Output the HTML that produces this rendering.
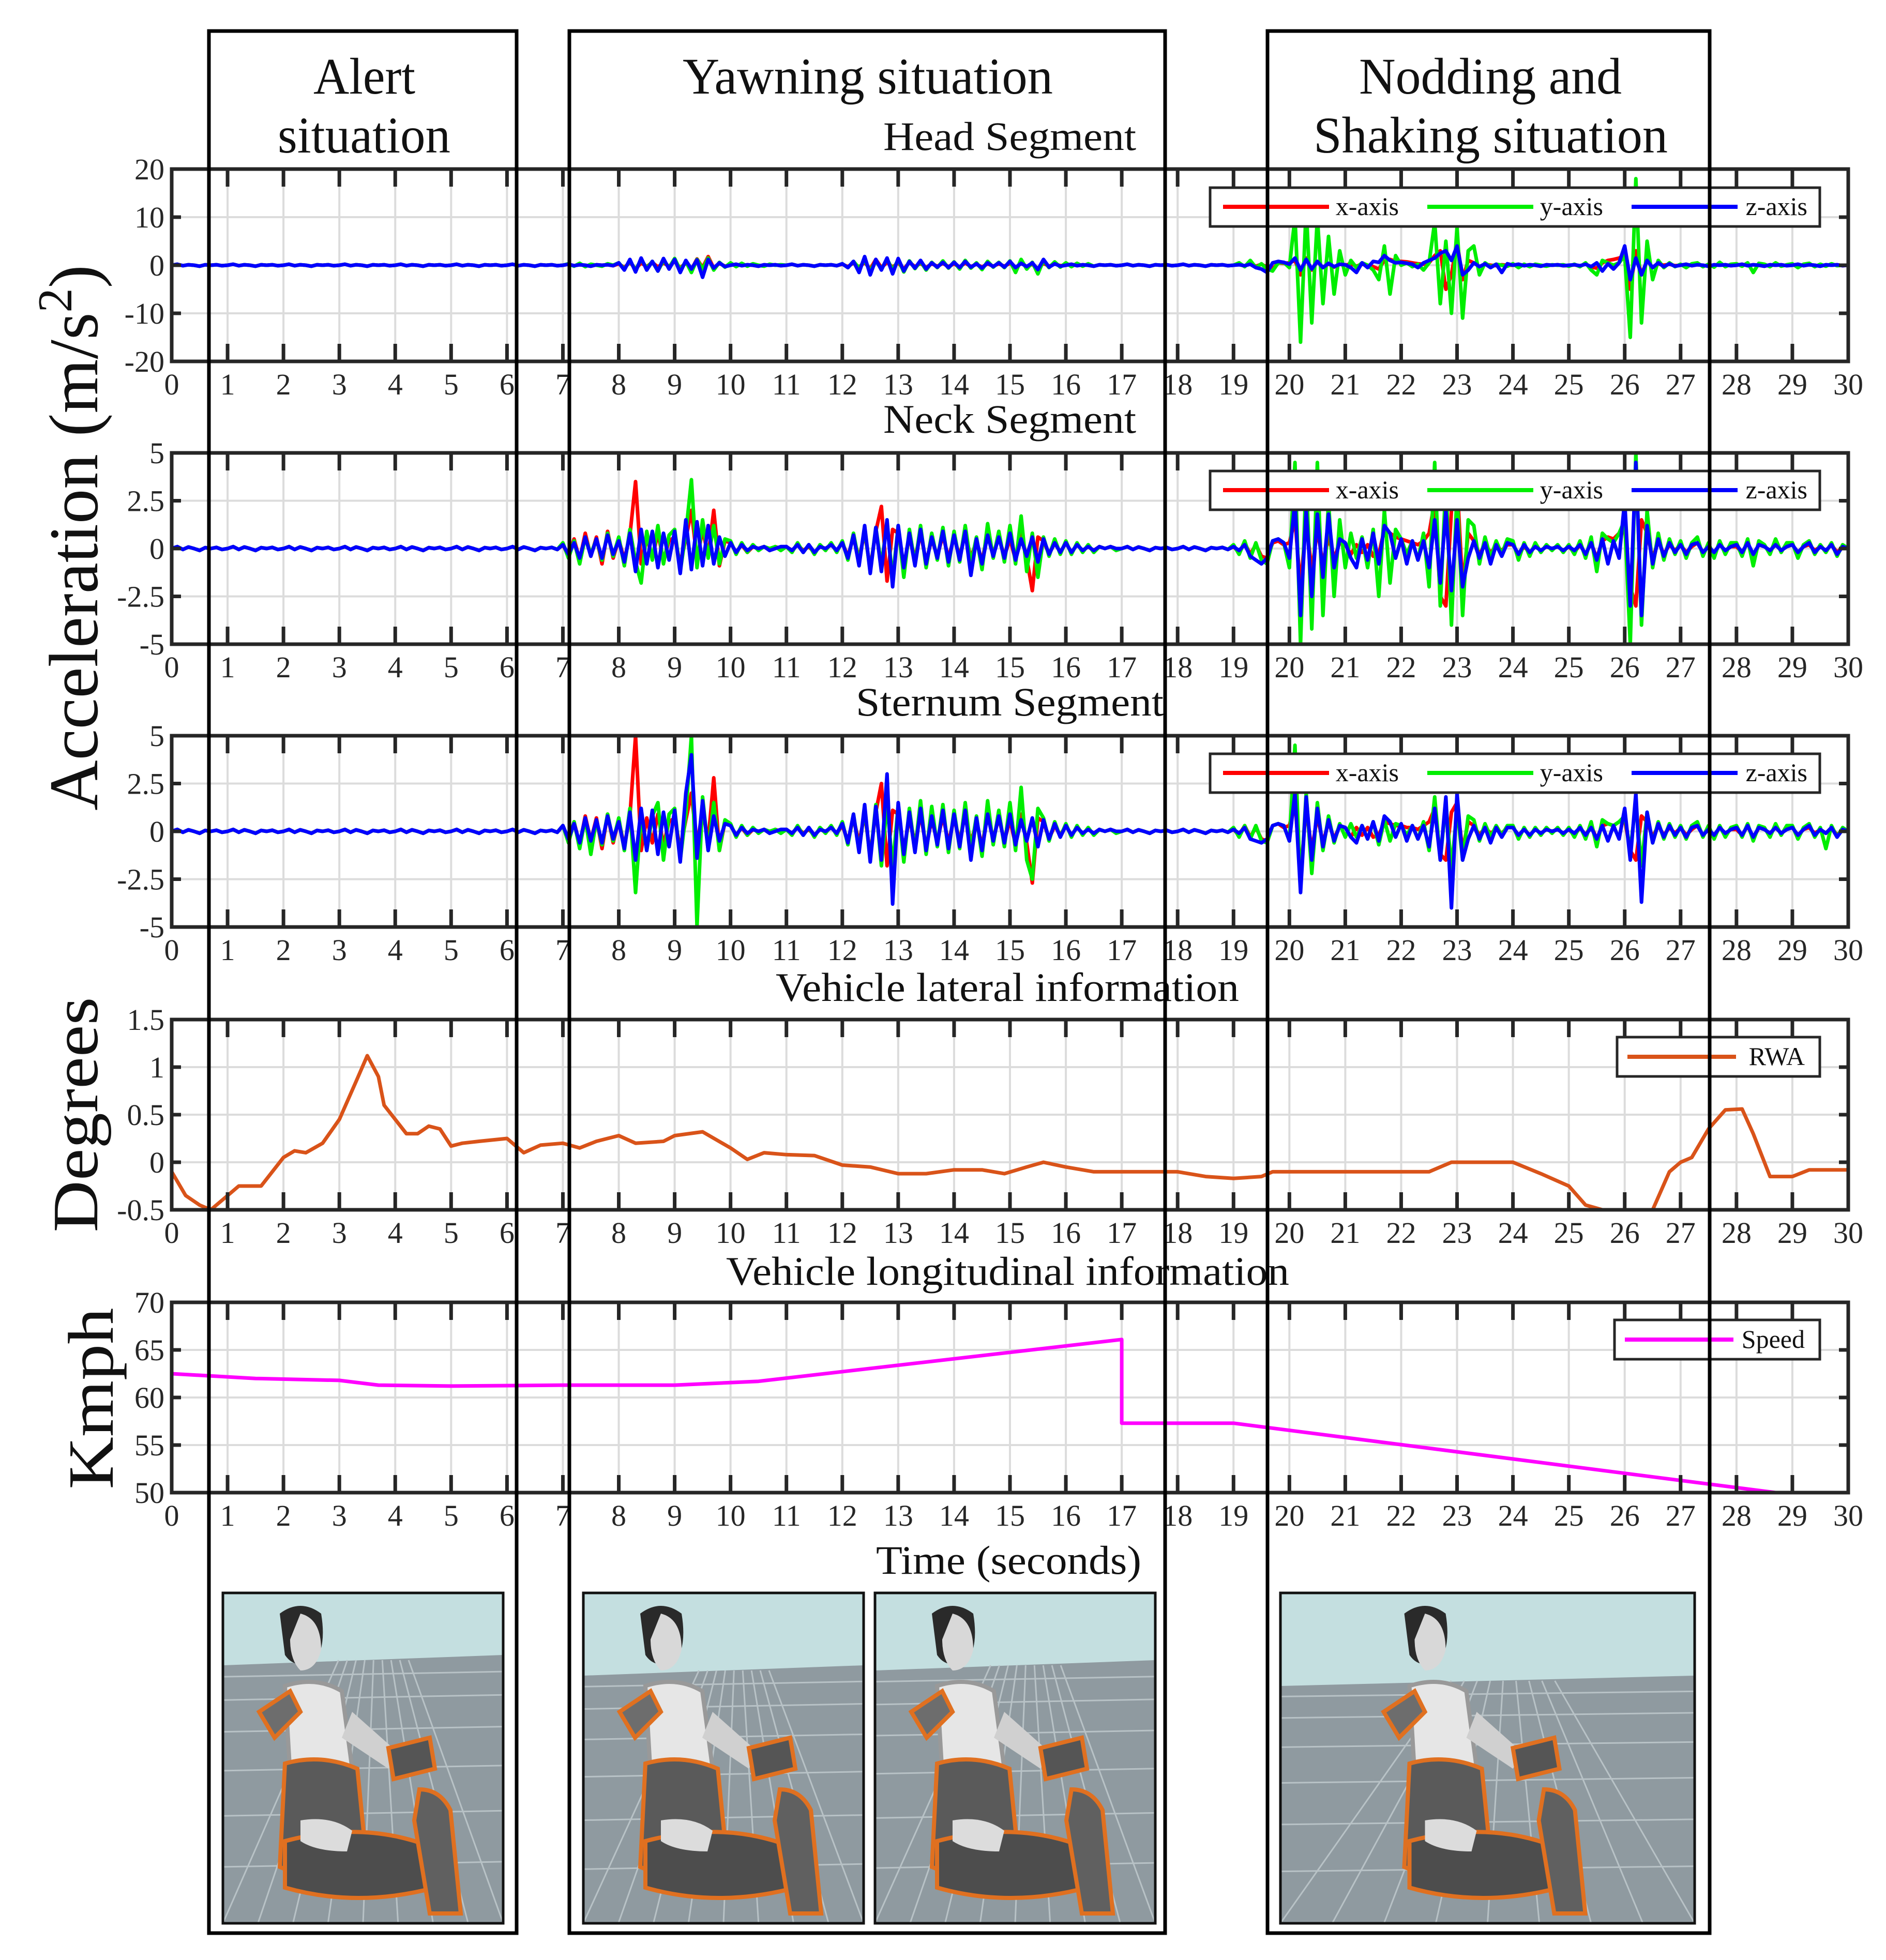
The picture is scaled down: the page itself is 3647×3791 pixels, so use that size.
<!DOCTYPE html>
<html><head><meta charset="utf-8"><style>
html,body{margin:0;padding:0;background:#fff;width:3647px;height:3791px;overflow:hidden;}
svg{display:block;font-family:"Liberation Serif",serif;}
</style></head><body>
<svg id="fig" xmlns="http://www.w3.org/2000/svg" width="3647" height="3791" viewBox="0 0 3647 3791" overflow="hidden">
<rect x="0" y="0" width="3647" height="3791" fill="#fff"/>
<g id="charts"></g>
<g id="panels"></g>
<g id="boxes"></g>
</svg>
<script>
// ---------- DATA ----------
const timeStart = 0, timeStep = 0.1;
const QH = [0,0.2,-0.1,0.1,0,-0.2,0.1,0,0.1,-0.1];
const QN = [0,0.1,-0.05,0.08,0,-0.1,0.05,0,0.06,-0.05];
const xTicks = [0,1,2,3,4,5,6,7,8,9,10,11,12,13,14,15,16,17,18,19,20,21,22,23,24,25,26,27,28,29,30];
const headTicks = [20,10,0,-10,-20];
const neckTicks = [5,2.5,0,-2.5,-5];
const sternTicks = [5,2.5,0,-2.5,-5];
const degTicks = [1.5,1,0.5,0,-0.5];
const kmphTicks = [70,65,60,55,50];

const headY = [...QH,...QH,...QH,...QH,...QH,...QH,...QH,
 0,0.3,-0.2,0.4,-0.3,0.2,0,-0.2,0.3,0,
 0.5,-0.8,0.9,-1,1.2,-0.6,0.8,-1.2,1,-0.5,
 1.4,-1,0.8,-1.5,1.2,-0.8,1.5,-1,0.6,-0.4,
 0.5,-0.3,0.4,-0.2,0.3,0,-0.2,0.2,0,0.1,
 ...QH,
 0.3,-0.5,0.8,-0.6,1,-1.2,0.9,-0.8,1.3,-1,
 1.1,-1.4,0.9,-0.7,0.8,-1,0.6,-0.5,0.9,-0.6,
 0.7,-0.8,1,-0.6,0.5,-0.9,0.8,-0.4,0.6,-0.5,
 0.9,-1.5,1.2,-0.8,0.6,-1.8,1,-0.5,0.7,-0.4,
 0.5,-0.3,0.4,-0.2,0.3,-0.2,0.1,0,0.1,-0.1,
 ...QH,...QH,
 0,0.5,-0.3,1,-0.5,0.3,-0.8,-1.2,0.5,0.6,
 -0.5,10,-16,12,-12,10,-8,6,-6,3,
 -2,1,-0.5,0.5,0,-1,-3,4,-6,2,
 0,0.5,-0.3,0.2,-1,0.5,9,-8,5,-10,
 8,-11,3,4,-2,0.5,-0.3,0.2,0,-0.2,
 0.3,-0.5,0.2,-0.3,0.2,0,-0.2,0.1,0,0.1,
 -0.2,0.2,-0.3,0.5,-1,-2,1,0.5,0,0.5,
 2,-15,18,-12,5,-3,1,-0.5,0.5,-0.3,
 0.2,-0.5,0.3,0.5,-0.3,0.2,-0.4,0.6,-0.3,0.2,
 0.3,-0.2,0.5,-1.5,0.4,0.2,-0.3,0.5,-0.2,0.1,
 0.3,-0.5,0.2,0.4,-0.3,0.2,-0.2,0.3,-0.1,0,
 0];
const headX = [...QH,...QH,...QH,...QH,...QH,...QH,...QH,...QH,
 0.3,-0.5,0.6,-0.8,0.5,-0.3,0.6,-0.4,0.5,-0.2,
 0.8,-0.6,0.5,-0.9,1.3,-0.5,1.8,-0.6,0.4,-0.2,
 ...QH,...QH,
 0.2,-0.3,0.5,-0.4,0.6,-0.8,1.2,-0.5,0.6,-0.4,
 0.5,-0.8,0.6,-0.3,0.4,-0.5,0.3,-0.2,0.4,-0.3,
 0.3,-0.4,0.5,-0.3,0.2,-0.4,0.3,-0.2,0.3,-0.2,
 0.4,-0.6,0.5,-0.3,0.2,-0.7,0.4,-0.2,0.3,-0.1,
 ...QH,...QH,...QH,
 0,0.2,-0.2,0.4,-0.2,0.2,-0.4,-0.8,0.5,0.4,
 0.5,1,-2,1.5,-1,0.8,-0.5,0.3,-0.4,0.2,
 0,0.3,-0.2,0.2,0,-0.3,-0.8,1,1.2,0.8,
 0.8,0.7,0.5,0.3,0.2,0.5,2,3,-5,-2,
 5,-3,1,0.5,-0.3,0.2,0,-0.1,0.1,0,
 ...QH,
 -0.1,0.1,-0.2,0.3,-0.4,-0.6,0.5,1,1.2,1.5,
 2,-5,3,-2,1,-0.5,0.3,0,0.2,-0.1,
 ...QH,...QH,...QH,
 0];
const headZ = [...QH,...QH,...QH,...QH,...QH,...QH,...QH,...QH,
 0.5,-1,1.2,-1.4,1.5,-1,0.8,-1.2,1.4,-0.8,
 1.2,-1.5,1,-0.8,1.1,-2.5,1.2,-0.6,0.5,-0.3,
 ...QH,...QH,
 0.3,-0.5,0.8,-1.5,1.8,-2,1.2,-1,1.5,-1.8,
 1.4,-1.2,0.8,-0.6,1,-0.8,0.5,-0.4,0.6,-0.5,
 0.6,-0.5,0.8,-0.4,0.3,-0.6,0.5,-0.3,0.5,-0.4,
 0.8,-0.5,0.4,-0.3,0.5,-0.9,1.2,-0.4,0.3,-0.2,
 ...QH,...QH,...QH,
 0,0.1,-0.1,0.2,-0.5,-0.8,-1.5,0.5,0.8,0.6,
 0.2,1.5,-1,1.2,-0.8,0.8,-0.5,0.4,-0.3,0.2,
 0.1,-0.5,-1.5,0.5,-0.5,0.8,0.6,2,1,0.5,
 0.6,0.4,0.2,-0.5,0.5,1,1.5,2.5,3,1,
 4,-2,-1,0.5,-0.3,0.3,-0.5,0.2,-1.5,0.3,
 ...QH,
 0,0.1,-0.1,0.2,-0.3,0.5,-1.2,0.3,-0.8,0.5,
 4,-3,1.5,-2,1,-0.5,0.5,-0.3,0.3,-0.2,
 ...QH,...QH,...QH,
 0];

const neckY = [...QN,...QN,...QN,...QN,...QN,...QN,...QN,
 0.3,-0.5,0.4,-0.8,0.6,-0.3,0.5,-0.6,0.8,-0.4,
 0.6,-0.9,1,-0.7,-1.8,0.9,-0.6,1.2,-0.8,0.7,
 1,-1.2,0.8,3.6,-1,1.5,-0.5,1.2,-0.8,0.5,
 0.4,-0.3,0.3,-0.2,0.2,-0.1,0.1,0,0.1,-0.1,
 0.1,-0.2,0.3,-0.2,0.2,-0.3,0.2,-0.1,0.3,-0.2,
 0.4,-0.6,0.8,-0.7,1,-1.2,1.1,-0.9,1.4,-1.6,
 1.2,-1.5,1,-0.8,1.2,-1,0.8,-0.6,1.1,-0.9,
 0.9,-0.7,1.2,-0.8,0.6,-1.1,1.3,-0.5,0.9,-0.7,
 1.2,-0.8,1.7,-1.2,0.8,-1.5,0.6,-0.4,0.5,-0.3,
 0.4,-0.3,0.3,-0.2,0.2,-0.2,0.1,0,0.1,-0.1,
 ...QN,...QN,
 0.2,-0.3,0.4,-0.5,0.3,-0.6,-0.8,0.4,0.5,0.3,
 -1,4.5,-5,4,-4.2,4.5,-3.5,2.5,-2.5,1.5,
 -1,0.8,-0.5,0.6,-1,1,-2.5,2,-1.8,1,
 0.5,-0.3,0.4,-0.6,0.8,-2,4.5,-3,3.5,-4,
 3,-3.5,1.5,1.2,-0.8,0.6,-0.5,0.4,-0.3,0.5,
 0.4,-0.6,0.3,-0.4,0.3,-0.2,0.2,-0.1,0.2,-0.2,
 0.2,-0.3,0.4,-0.5,0.6,-1.2,0.8,0.5,0.3,0.8,
 1.5,-5,5,-4,2,-1,0.8,-0.6,0.5,-0.3,
 0.4,-0.5,0.3,0.6,-0.4,0.3,-0.5,0.4,-0.3,0.3,
 0.3,-0.4,0.5,-0.9,0.4,0.2,-0.3,0.5,-0.2,0.3,
 0.3,-0.5,0.2,0.4,-0.3,0.2,-0.2,0.3,-0.4,0.2,
 0];
const neckX = [...QN,...QN,...QN,...QN,...QN,...QN,...QN,
 0.2,-0.4,0.5,-0.6,0.8,-0.4,0.6,-0.8,0.9,-0.5,
 0.5,-0.6,0.7,3.5,-0.8,0.6,-0.5,0.8,-0.6,0.4,
 0.6,-0.8,0.5,2,-0.6,1,-0.4,2,-0.9,0.4,
 0.3,-0.2,0.2,-0.2,0.1,0,0.1,-0.1,0.1,0,
 0.1,-0.1,0.2,-0.1,0.1,-0.2,0.1,0,0.2,-0.1,
 0.3,-0.4,0.6,-0.5,0.8,-1,0.9,2.2,-1.7,1,
 0.8,-0.9,0.6,-0.5,0.8,-0.7,0.5,-0.4,0.7,-0.5,
 0.6,-0.4,0.8,-0.5,0.4,-0.7,0.9,-0.3,0.6,-0.4,
 0.5,-0.6,0.8,-0.5,-2.2,0.6,0.4,-0.3,0.3,-0.2,
 0.3,-0.2,0.2,-0.1,0.1,-0.1,0.1,0,0.1,0,
 ...QN,...QN,
 0.1,-0.2,0.3,-0.3,0.2,-0.4,-0.5,0.3,0.4,0.2,
 0.3,1.5,-2,1.5,-1.2,1,-0.8,0.6,-0.5,0.3,
 0.2,-0.3,0.2,-0.2,0.2,-0.4,-0.3,1,0.8,0.6,
 0.5,0.4,0.3,0.2,0.4,0.8,2.5,-2.5,-3,2,
 3.5,-2,0.8,0.4,-0.3,0.2,-0.2,0.1,-0.1,0.2,
 0.2,-0.3,0.1,-0.2,0.1,-0.1,0.1,0,0.1,-0.1,
 0.1,-0.2,0.2,-0.3,0.3,-0.5,0.4,0.6,0.5,0.8,
 1,-2,-3,1.5,0.8,-0.5,0.4,-0.3,0.2,-0.1,
 0.2,-0.2,0.1,0.3,-0.2,0.1,-0.2,0.2,-0.1,0.1,
 0.1,-0.2,0.3,-0.4,0.2,0.1,-0.1,0.2,-0.1,0.1,
 0.2,-0.2,0.1,0.2,-0.1,0.1,-0.1,0.2,-0.2,0.1,
 0];
const neckZ = [...QN,...QN,...QN,...QN,...QN,...QN,...QN,
 0.2,-0.3,0.3,-0.5,0.6,-0.4,0.5,-0.5,0.7,-0.3,
 0.4,-0.7,0.8,-1.2,1,-0.8,0.9,-1,0.8,-0.6,
 0.9,-1.3,1.5,-1.1,1.4,-0.9,1.2,-0.8,0.6,-0.4,
 0.3,-0.2,0.2,-0.1,0.1,0,0.1,-0.1,0,0.1,
 0.1,-0.1,0.2,-0.2,0.2,-0.2,0.1,0,0.2,-0.1,
 0.3,-0.5,0.7,-0.9,1.2,-1.3,1.1,-1.2,1.5,-2,
 1.2,-1,0.8,-0.9,1,-0.8,0.6,-0.5,0.9,-0.7,
 0.7,-0.6,0.9,-1.4,0.5,-0.8,0.7,-0.4,0.6,-0.5,
 0.8,-0.6,0.5,-0.4,0.6,-0.7,0.5,-0.3,0.3,-0.2,
 0.3,-0.2,0.2,-0.1,0.1,-0.1,0.1,0,0.1,0,
 ...QN,...QN,
 0.1,-0.1,0.2,-0.4,-0.6,-0.8,-0.5,0.4,0.5,0.3,
 -0.5,2.5,-3.5,2,-2.5,1.8,-1.5,1.8,-1,0.5,
 0.3,-0.5,-1,0.5,-0.6,0.8,-0.8,1.2,0.8,-0.5,
 0.5,-0.8,0.4,-0.6,0.4,-1,1.5,-1.8,2,-2.2,
 1.5,-2,-0.5,0.4,-0.5,0.3,-0.8,0.2,-0.4,0.3,
 0.2,-0.3,0.2,-0.2,0.1,-0.1,0.1,0,0.1,-0.1,
 0.1,-0.1,0.2,-0.3,0.3,-0.6,0.5,-0.8,0.4,-0.5,
 2.5,-3,4.5,-3.5,1.2,-0.8,0.5,-0.4,0.3,-0.2,
 0.2,-0.3,0.2,0.3,-0.2,0.1,-0.2,0.2,-0.1,0.1,
 0.2,-0.2,0.3,-0.3,0.2,0.1,-0.1,0.2,-0.1,0.1,
 0.2,-0.2,0.1,0.3,-0.2,0.1,-0.1,0.2,-0.3,0.1,
 0];

const sternY = [...QN,...QN,...QN,...QN,...QN,...QN,...QN,
 0.3,-0.6,0.5,-0.9,0.7,-1.2,0.6,-0.7,0.9,-0.5,
 0.7,-1,1.2,-3.2,0.9,-1,0.8,1.5,-1.5,0.9,
 1.2,-1.5,0.9,5,-5,1.8,-1,1.5,-1,0.6,
 0.4,-0.3,0.3,-0.2,0.2,-0.1,0.1,0,0.1,-0.1,
 0.1,-0.2,0.3,-0.2,0.2,-0.3,0.2,-0.1,0.3,-0.2,
 0.5,-0.7,0.9,-1,1.2,-1.5,1.4,-1.8,1.5,-1.9,
 1.4,-1.6,1.2,-1,1.6,-1.2,1.3,-0.8,1.4,-1.1,
 1.1,-0.9,1.5,-1,0.8,-1.3,1.6,-0.7,1.1,-0.8,
 1.5,-1,2.3,-1.5,-2.5,1.2,0.7,-0.5,0.5,-0.3,
 0.4,-0.3,0.3,-0.2,0.2,-0.2,0.1,0,0.1,-0.1,
 ...QN,...QN,
 0.2,-0.3,0.3,-0.4,0.3,-0.5,-0.6,0.3,0.4,0.3,
 -0.5,4.5,-3,2,-2.2,1.5,-1,0.8,-0.6,0.4,
 -0.3,0.4,-0.3,0.3,-0.4,0.5,-0.7,0.6,-0.5,0.4,
 0.3,-0.2,0.3,-0.4,0.5,-1,1.8,-1.5,1.5,-2,
 1.2,-1.5,0.8,0.6,-0.5,0.4,-0.3,0.3,-0.2,0.3,
 0.3,-0.4,0.2,-0.3,0.2,-0.2,0.2,-0.1,0.2,-0.2,
 0.2,-0.3,0.3,-0.4,0.5,-0.8,0.6,0.4,0.3,0.5,
 0.8,-1,1.5,-1.8,1,-0.6,0.5,-0.4,0.4,-0.3,
 0.3,-0.4,0.3,0.5,-0.3,0.3,-0.4,0.3,-0.3,0.2,
 0.3,-0.3,0.4,-0.5,0.3,0.2,-0.3,0.4,-0.2,0.3,
 0.3,-0.4,0.2,0.4,-0.3,0.2,-0.9,0.3,-0.3,0.2,
 0];
const sternX = [...QN,...QN,...QN,...QN,...QN,...QN,...QN,
 0.3,-0.5,0.5,-0.7,0.8,-0.5,0.7,-0.9,0.9,-0.6,
 0.6,-0.8,0.8,5,-1,0.7,-0.6,0.9,-0.7,0.5,
 0.7,-0.9,0.6,2,-0.7,1.1,-0.5,2.8,-1,0.5,
 0.3,-0.2,0.2,-0.2,0.1,0,0.1,-0.1,0.1,0,
 0.1,-0.1,0.2,-0.1,0.1,-0.2,0.1,0,0.2,-0.1,
 0.3,-0.5,0.7,-0.6,0.9,-1.2,1,2.5,-1.8,1.1,
 0.9,-1,0.7,-0.6,0.9,-0.8,0.6,-0.5,0.8,-0.6,
 0.7,-0.5,0.9,-0.6,0.5,-0.8,1,-0.4,0.7,-0.5,
 0.6,-0.7,0.9,-0.6,-2.7,0.7,0.5,-0.4,0.3,-0.2,
 0.3,-0.2,0.2,-0.1,0.1,-0.1,0.1,0,0.1,0,
 ...QN,...QN,
 0.1,-0.2,0.3,-0.3,0.2,-0.4,-0.5,0.3,0.4,0.2,
 0.3,1.5,-2.2,1.2,-1,0.8,-0.6,0.5,-0.4,0.3,
 0.2,-0.3,0.2,-0.2,0.2,-0.3,-0.2,0.5,0.4,0.3,
 0.3,0.2,0.2,0.1,0.3,0.5,1.2,-1.2,-1.5,1,
 1.5,-1,0.5,0.3,-0.2,0.2,-0.1,0.1,-0.1,0.2,
 0.2,-0.2,0.1,-0.2,0.1,-0.1,0.1,0,0.1,-0.1,
 0.1,-0.2,0.2,-0.2,0.3,-0.4,0.3,0.4,0.3,0.5,
 0.6,-1,-1.5,0.8,0.5,-0.3,0.3,-0.2,0.2,-0.1,
 0.2,-0.2,0.1,0.3,-0.2,0.1,-0.2,0.2,-0.1,0.1,
 0.1,-0.2,0.3,-0.4,0.2,0.1,-0.1,0.2,-0.1,0.1,
 0.2,-0.2,0.1,0.2,-0.1,0.1,-0.1,0.2,-0.2,0.1,
 0];
const sternZ = [...QN,...QN,...QN,...QN,...QN,...QN,...QN,
 0.3,-0.4,0.4,-0.6,0.7,-0.5,0.6,-0.6,0.8,-0.4,
 0.5,-0.9,1,-1.5,1.2,-1,1.1,-1.2,1,-0.8,
 1.1,-1.6,2,4,-1.4,1.6,-1,0.8,-0.5,0.4,
 0.3,-0.2,0.2,-0.1,0.1,0,0.1,-0.1,0,0.1,
 0.1,-0.1,0.2,-0.2,0.2,-0.2,0.1,0,0.2,-0.1,
 0.4,-0.6,0.9,-1.1,1.4,-1.6,1.3,-1.5,3,-3.8,
 1.5,-1.2,1,-1.1,1.2,-1,0.8,-0.7,1.1,-0.9,
 0.9,-0.8,1.1,-1.5,0.7,-1,0.9,-0.5,0.8,-0.6,
 0.9,-0.7,0.6,-0.5,0.7,-0.8,0.6,-0.4,0.4,-0.3,
 0.3,-0.2,0.2,-0.1,0.1,-0.1,0.1,0,0.1,0,
 ...QN,...QN,
 0.1,-0.1,0.2,-0.4,-0.5,-0.6,-0.4,0.3,0.4,0.3,
 -0.5,2,-3.2,1.8,-1.5,1.2,-0.8,0.6,-0.5,0.3,
 0.2,-0.3,-0.6,0.3,-0.4,0.5,-0.5,0.8,0.5,-0.3,
 0.4,-0.5,0.3,-0.4,0.3,-0.8,1.2,-1.5,1.8,-4,
 2,-1.5,-0.4,0.3,-0.4,0.2,-0.6,0.2,-0.3,0.2,
 0.2,-0.2,0.1,-0.2,0.1,-0.1,0.1,0,0.1,-0.1,
 0.1,-0.1,0.2,-0.2,0.2,-0.4,0.3,-0.5,0.3,-0.4,
 1.2,-1.5,2,-3.7,1,-0.6,0.4,-0.3,0.3,-0.2,
 0.2,-0.3,0.2,0.3,-0.2,0.1,-0.2,0.2,-0.1,0.1,
 0.2,-0.2,0.3,-0.3,0.2,0.1,-0.1,0.2,-0.1,0.1,
 0.2,-0.2,0.1,0.3,-0.2,0.1,-0.1,0.2,-0.3,0.1,
 0];

const rwaT = [0,0.25,0.5,0.7,1.0,1.2,1.6,2.0,2.2,2.4,2.7,3.0,3.3,3.5,3.7,3.8,4.0,4.2,4.4,4.6,4.8,5.0,5.2,5.5,6.0,6.3,6.6,7.0,7.3,7.6,8.0,8.3,8.8,9.0,9.5,10.0,10.3,10.6,11.0,11.5,12.0,12.5,13.0,13.5,14.0,14.5,14.9,15.3,15.6,16.0,16.5,17.0,18.0,18.5,19.0,19.5,19.7,21.0,22.5,22.9,24.0,24.5,25.0,25.3,25.6,26.5,26.8,27.0,27.2,27.5,27.8,28.1,28.3,28.6,29.0,29.3,30.0];
const rwaV = [-0.1,-0.35,-0.45,-0.5,-0.35,-0.25,-0.25,0.05,0.12,0.1,0.2,0.45,0.85,1.12,0.9,0.6,0.45,0.3,0.3,0.38,0.35,0.17,0.2,0.22,0.25,0.1,0.18,0.2,0.15,0.22,0.28,0.2,0.22,0.28,0.32,0.15,0.03,0.1,0.08,0.07,-0.03,-0.05,-0.12,-0.12,-0.08,-0.08,-0.12,-0.05,0.0,-0.05,-0.1,-0.1,-0.1,-0.15,-0.17,-0.15,-0.1,-0.1,-0.1,0,0,-0.12,-0.25,-0.45,-0.5,-0.5,-0.1,0,0.05,0.35,0.55,0.56,0.3,-0.15,-0.15,-0.08,-0.08];
const speedT = [0,1.5,3,3.7,5,7,9,10.5,17,17,19,28.7];
const speedV = [62.5,62,61.8,61.3,61.2,61.3,61.3,61.7,66.1,57.3,57.3,50];

// ---------- DRAW ----------
const NS='http://www.w3.org/2000/svg';
const charts=document.getElementById('charts');
function mk(tag,attrs,parent){const e=document.createElementNS(NS,tag);for(const k in attrs)e.setAttribute(k,attrs[k]);(parent||charts).appendChild(e);return e;}
const XL=332, XR=3574;
function xAxis(t){return XL+(t-0)*(XR-XL)/30;}
function yAxisFn(top,bot,mn,mx){return v=>bot-(v-mn)*(bot-top)/(mx-mn);}

const defs=mk('defs',{});
function panel(id,top,bot,mn,mx,ticks,fmt){
  const g=mk('g',{});
  
  
  const y=yAxisFn(top,bot,mn,mx);
  const cp=mk('clipPath',{id:'clip-'+id},defs);
  mk('rect',{x:XL,y:top,width:XR-XL,height:bot-top},cp);
  xTicks.forEach(t=>{const l=mk('line',{x1:xAxis(t),x2:xAxis(t),y1:top,y2:bot,stroke:'#dcdcdc','stroke-width':4},g);
    });
  ticks.forEach(v=>{const l=mk('line',{x1:XL,x2:XR,y1:y(v),y2:y(v),stroke:'#dcdcdc','stroke-width':4},g);
    });
  const sg=mk('g',{'clip-path':'url(#clip-'+id+')'},g);
  return {g,sg,y,top,bot,ticks,fmt};
}
function finishPanel(P,id){
  const {g,y,top,bot,ticks}=P;
  const fr=mk('rect',{x:XL,y:top,width:XR-XL,height:bot-top,fill:'none',stroke:'#262626','stroke-width':7},g);
  
  xTicks.forEach(t=>{
    mk('line',{x1:xAxis(t),x2:xAxis(t),y1:top,y2:top+34,stroke:'#262626','stroke-width':7},g);
    mk('line',{x1:xAxis(t),x2:xAxis(t),y1:bot,y2:bot-34,stroke:'#262626','stroke-width':7},g);
    const tx=mk('text',{x:xAxis(t),y:bot+64,'font-size':58,'text-anchor':'middle',fill:'#262626'},g);
    tx.textContent=t;
    
  });
  ticks.forEach(v=>{
    mk('line',{x1:XL,x2:XL+18,y1:y(v),y2:y(v),stroke:'#262626','stroke-width':7},g);
    mk('line',{x1:XR,x2:XR-18,y1:y(v),y2:y(v),stroke:'#262626','stroke-width':7},g);
    const tx=mk('text',{x:318,y:y(v)+20,'font-size':58,'text-anchor':'end',fill:'#262626'},g);
    tx.textContent=v;
    
  });
}
function seriesLine(P,vals,color,name,w){
  let d='';
  vals.forEach((v,i)=>{const t=timeStart+i*timeStep; d+=(i?'L':'M')+xAxis(t).toFixed(1)+' '+P.y(v).toFixed(1);});
  const p=mk('path',{d,fill:'none',stroke:color,'stroke-width':w||7,'stroke-linejoin':'round'},P.sg);
  
}
function xyLine(P,ts,vs,color,name,w){
  let d='';
  ts.forEach((t,i)=>{d+=(i?'L':'M')+xAxis(t).toFixed(1)+' '+P.y(vs[i]).toFixed(1);});
  const p=mk('path',{d,fill:'none',stroke:color,'stroke-width':w||7,'stroke-linejoin':'round'},P.sg);
  
}
function legend3(P,id,top){
  const g=mk('g',{},P.g);
  
  mk('rect',{x:2340,y:top,width:1179,height:75,fill:'#fff',stroke:'#262626','stroke-width':5},g);
  const items=[['x-axis','#ff0000',2365],['y-axis','#00ee00',2760],['z-axis','#0000ff',3155]];
  items.forEach(([lab,c,x0])=>{
    const l=mk('line',{x1:x0,x2:x0+205,y1:top+37,y2:top+37,stroke:c,'stroke-width':8},g);
    
    const tx=mk('text',{x:x0+340,y:top+53,'font-size':50,'text-anchor':'end',fill:'#111'},g);
    tx.textContent=lab;
    
  });
}
function legend1(P,id,top,x0,lab,c){
  const g=mk('g',{},P.g);
  
  mk('rect',{x:x0,y:top,width:3519-x0,height:76,fill:'#fff',stroke:'#262626','stroke-width':5},g);
  mk('line',{x1:x0+20,x2:x0+230,y1:top+38,y2:top+38,stroke:c,'stroke-width':8},g);
  const tx=mk('text',{x:3490,y:top+54,'font-size':50,'text-anchor':'end',fill:'#111'},g);
  tx.textContent=lab;
  
}
function title(txt,x1,x2,yb,size,name){
  const t=mk('text',{x:x1,y:yb,'font-size':size,textLength:x2-x1,lengthAdjust:'spacingAndGlyphs',fill:'#111'});
  t.textContent=txt;
  
}

const head=panel('head',327,699,-20,20,headTicks);
seriesLine(head,headX,'#ff0000','head-x-series');
seriesLine(head,headY,'#00ee00','head-y-series');
seriesLine(head,headZ,'#0000ff','head-z-series');
finishPanel(head,'head');legend3(head,'head',363);

const neck=panel('neck',876,1246,-5,5,neckTicks);
seriesLine(neck,neckX,'#ff0000','neck-x-series');
seriesLine(neck,neckY,'#00ee00','neck-y-series');
seriesLine(neck,neckZ,'#0000ff','neck-z-series');
finishPanel(neck,'neck');legend3(neck,'neck',911);

const stern=panel('sternum',1423,1793,-5,5,sternTicks);
seriesLine(stern,sternX,'#ff0000','sternum-x-series');
seriesLine(stern,sternY,'#00ee00','sternum-y-series');
seriesLine(stern,sternZ,'#0000ff','sternum-z-series');
finishPanel(stern,'sternum');legend3(stern,'sternum',1458);

const deg=panel('lateral',1972,2340,-0.5,1.5,degTicks);
xyLine(deg,rwaT,rwaV,'#d95319','rwa-line',7);
finishPanel(deg,'lateral');legend1(deg,'rwa',2006,3127,'RWA','#d95319');

const spd=panel('longitudinal',2519,2887,50,70,kmphTicks);
xyLine(spd,speedT,speedV,'#ff00ff','speed-line',7);
finishPanel(spd,'longitudinal');legend1(spd,'speed',2553,3122,'Speed','#ff00ff');

title('Head Segment',1708,2197,290,78,'head-segment-title');
title('Neck Segment',1708,2197,837,78,'neck-segment-title');
title('Sternum Segment',1655,2250,1384,78,'sternum-segment-title');
title('Vehicle lateral information',1500,2396,1936,78,'lateral-title');
title('Vehicle longitudinal information',1404,2493,2485,78,'longitudinal-title');
title('Time (seconds)',1694,2207,3044,78,'x-axis-title');

function ytitle(txt,cx,cy,len,size,name,sup){
  const t=mk('text',{x:0,y:0,'font-size':size,'text-anchor':'middle',fill:'#111',transform:`translate(${cx},${cy}) rotate(-90)`});
  
  if(sup){
    const a=mk('tspan',{},t);a.textContent=txt;
    const b=mk('tspan',{dy:-50,'font-size':size*0.7},t);b.textContent='2';
    const c=mk('tspan',{dy:50},t);c.textContent=')';
  } else {
    t.setAttribute('textLength',len);t.setAttribute('lengthAdjust','spacingAndGlyphs');
    t.textContent=txt;
  }
}
ytitle('Acceleration (m/s',188,1040,0,135,'acceleration-y-title',true);
ytitle('Degrees',188,2156,455,125,'degrees-y-title');
ytitle('Kmph',218,2705,351,125,'kmph-y-title');

title('Alert',606,803,181,100,'alert-label');
title('situation',537,871,295,100,'alert-label-2');
title('Yawning situation',1320,2036,181,100,'yawning-label');
title('Nodding and',2628,3136,181,100,'nodding-label');
title('Shaking situation',2540,3225,295,100,'nodding-label-2');

const boxes=document.getElementById('boxes');
[['alert-situation-box',404,999],['yawning-situation-box',1101,2253],['nodding-situation-box',2451,3306]].forEach(([n,x1,x2])=>{
  const r=mk('rect',{x:x1,y:60,width:x2-x1,height:3679,fill:'none',stroke:'#000','stroke-width':7},boxes);
  
});

const panels=document.getElementById('panels');
function posture(name,x,y,w,h,horizon){
  const g=mk('g',{},panels);
  
  const cpid='cp-'+name;
  const cp=mk('clipPath',{id:cpid},defs);mk('rect',{x,y,width:w,height:h},cp);
  const gg=mk('g',{'clip-path':`url(#${cpid})`},g);
  mk('rect',{x,y,width:w,height:h,fill:'#c4dfe0'},gg);
  mk('polygon',{points:`${x},${y+horizon} ${x+w},${y+horizon-20} ${x+w},${y+h} ${x},${y+h}`,fill:'#8f9aa0'},gg);
  for(let i=0;i<9;i++){
    const fx=x+i*w*0.125;
    mk('line',{x1:x+w*0.55+(fx-x-w*0.55)*0.25,y1:y+horizon-10,x2:fx,y2:y+h,stroke:'#b8c2c6','stroke-width':3},gg);
  }
  for(let j=1;j<7;j++){
    const yy=y+horizon+Math.pow(j/7,1.6)*(h-horizon);
    mk('line',{x1:x,y1:yy,x2:x+w,y2:yy-10,stroke:'#b8c2c6','stroke-width':3},gg);
  }
  const s=Math.min(w/542,h/639);
  const ox=x+(w-542*s)/2;
  const m=mk('g',{transform:`translate(${ox},${y}) scale(${s})`},gg);
  const P=(d,f,st)=>mk('path',{d,fill:f,stroke:st||'none','stroke-width':8},m);
  P('M110,40 q40,-30 80,0 q10,60 -10,90 q-40,20 -60,-10 z','#2a2a2a');
  P('M150,40 q40,10 40,70 q-10,40 -40,40 q-20,-20 -20,-60 z','#d8d8d8');
  P('M120,180 q60,-20 110,10 l20,150 q-60,40 -120,10 z','#e6e6e6','#999');
  P('M70,230 l60,-40 l20,40 l-50,50 z','#6d6d6d','#e07020');
  P('M250,230 l90,80 l-20,30 l-90,-60 z','#d0d0d0');
  P('M320,300 l80,-20 l10,60 l-80,20 z','#555','#e07020');
  P('M120,330 q70,-20 140,10 l20,200 q-80,30 -170,-10 z','#5a5a5a','#e07020');
  P('M120,480 q150,-40 280,10 l10,80 q-150,40 -290,0 z','#4d4d4d','#e07020');
  P('M380,380 q40,0 60,40 l20,200 l-60,0 l-30,-180 z','#606060','#e07020');
  P('M150,440 q60,-10 100,20 l-10,40 q-60,0 -90,-20 z','#dcdcdc');
  mk('rect',{x,y,width:w,height:h,fill:'none',stroke:'#111','stroke-width':5},g);
}
posture('alert-posture-image',431,3081,542,639,140);
posture('yawning-posture-image-1',1128,3081,542,639,160);
posture('yawning-posture-image-2',1692,3081,542,639,150);
posture('nodding-posture-image',2476,3081,801,639,180);
</script>
</body></html>
